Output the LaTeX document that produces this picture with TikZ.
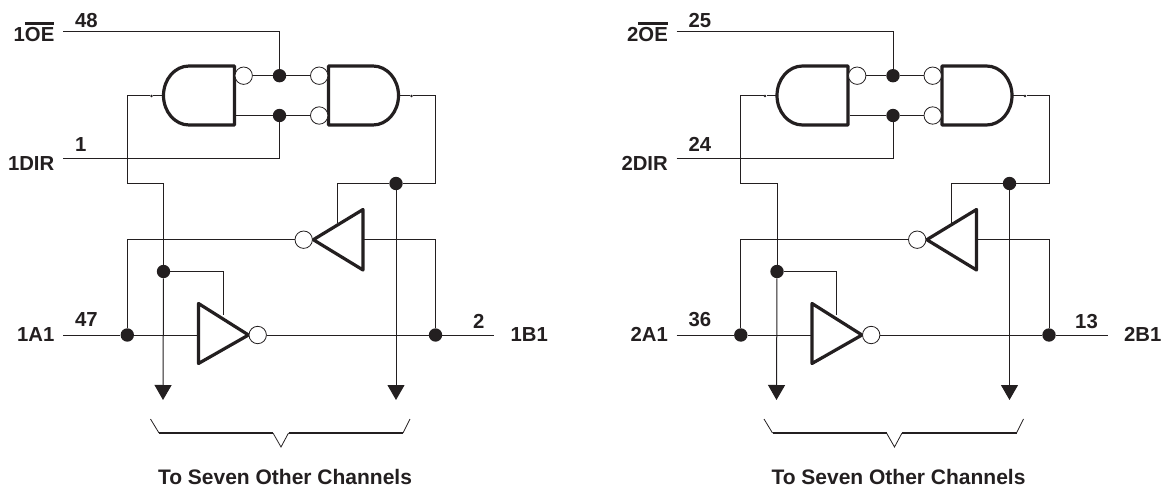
\documentclass[tikz,border=0pt]{standalone}
\usepackage{fontspec}
\setmainfont{Liberation Sans}
\usepackage{tikz}
\usetikzlibrary{arrows.meta}
\definecolor{ink}{HTML}{231F20}
\newcommand{\barred}[1]{\leavevmode\vbox{\hrule height 2.6pt \kern 3pt \hbox{#1}}}
\tikzset{
  wire/.style={draw=ink,line width=1pt},
  gate/.style={draw=ink,line width=3.2pt,line join=round,fill=white},
  junction/.style={circle,fill=ink,inner sep=0pt,minimum size=13.4pt},
  tick/.style={circle,fill=ink,inner sep=0pt,minimum size=2.6pt},
  bubble/.style={circle,draw=ink,line width=0.8pt,fill=white,inner sep=0pt,minimum size=17.4pt},
  pinlabel/.style={inner sep=0pt,text=ink,font=\fontsize{20.3}{22}\selectfont\bfseries},
  drop/.style={wire,-{Triangle[width=17pt,length=15pt,color=ink]}}
}
\begin{document}
\begin{tikzpicture}[x=1pt,y=-1pt]
\useasboundingbox (0,0) rectangle (1163,487);
%Zweimal derselbe Kanal, nur um 613.5 nach rechts
\foreach \ch/\off/\pOE/\pDIR/\pA/\pB in {1/0/48/1/47/2,2/613.5/25/24/36/13}{
\begin{scope}[xshift=\off pt]
%Gatter
  \draw[gate] (234.5,66) -- (189,66) arc[start angle=90,end angle=270,x radius=25.5pt,y radius=29.5pt] -- (234.5,125) -- cycle;
  \draw[gate] (328.5,66) -- (373,66) arc[start angle=90,end angle=-90,x radius=25.5pt,y radius=29.5pt] -- (328.5,125) -- cycle;
  \draw[gate] (363,209.5) -- (313.3,239.7) -- (363,270) -- cycle;
  \draw[gate] (198.5,303.5) -- (248.5,335) -- (198.5,363.5) -- cycle;
%Knoten
  \node[bubble] (bubOEa\ch) at (243.7,75.7) {};
  \node[bubble] (bubOEb\ch) at (319.2,75.7) {};
  \node[bubble] (bubDIRb\ch) at (319.2,115.5) {};
  \node[bubble] (bubBA\ch) at (303.7,239.7) {};
  \node[bubble] (bubAB\ch) at (257.7,335) {};
  \node[junction] (jOE\ch) at (279.5,75.7) {};
  \node[junction] (jDIR\ch) at (279.5,115.5) {};
  \node[junction] (jBus\ch) at (396,183.5) {};
  \node[junction] (jEn\ch) at (163.5,271.5) {};
  \node[junction] (jA\ch) at (127.3,335) {};
  \node[junction] (jB\ch) at (435.5,335) {};
  \node[tick] (tickA\ch) at (151.5,96) {};
  \node[tick] (tickB\ch) at (411.5,96) {};
  \coordinate (inOE\ch) at (63,32);
  \coordinate (inDIR\ch) at (63,158);
  \coordinate (inA\ch) at (63,335);
  \coordinate (outB\ch) at (494,335);
  \coordinate (gateAin\ch) at (163.5,96);
  \coordinate (gateAlow\ch) at (236,115.5);
  \coordinate (gateBout\ch) at (399,96);
  \coordinate (cornerA\ch) at (127.3,183.5);
  \coordinate (cornerB\ch) at (435.5,183.5);
  \coordinate (bufBin\ch) at (363,239.7);
  \coordinate (bufBen\ch) at (337.7,223);
  \coordinate (bufAin\ch) at (198.5,335);
  \coordinate (bufAen\ch) at (223,315);
  \coordinate (tipA\ch) at (163,400);
  \coordinate (tipB\ch) at (396,400);
%Leitungen
  \draw[wire] (inOE\ch) -| (jOE\ch);
  \draw[wire] (bubOEa\ch) -- (jOE\ch);
  \draw[wire] (jOE\ch) -- (bubOEb\ch);
  \draw[wire] (gateAlow\ch) -- (jDIR\ch);
  \draw[wire] (jDIR\ch) -- (bubDIRb\ch);
  \draw[wire] (inDIR\ch) -| (jDIR\ch);
  \draw[wire] (gateAin\ch) -- (tickA\ch) -| (cornerA\ch) -| (jEn\ch);
  \draw[wire] (gateBout\ch) -- (tickB\ch) -| (cornerB\ch) -- (jBus\ch);
  \draw[wire] (jBus\ch) -| (bufBen\ch);
  \draw[drop] (jBus\ch) -- (tipB\ch);
  \draw[drop] (jEn\ch) -- (tipA\ch);
  \draw[wire] (jEn\ch) -| (bufAen\ch);
  \draw[wire] (inA\ch) -- (jA\ch);
  \draw[wire] (jA\ch) -- (bufAin\ch);
  \draw[wire] (jA\ch) |- (bubBA\ch);
  \draw[wire] (bubAB\ch) -- (jB\ch);
  \draw[wire] (jB\ch) -- (outB\ch);
  \draw[wire] (bufBin\ch) -| (jB\ch);
%Klammer
  \draw[draw=ink,line width=0.8pt] (150.5,419) -- (159,433) (273,433) -- (281,447) -- (288.5,433) (403,433) -- (410,419);
  \draw[draw=ink,line width=1.6pt] (159,433) -- (273,433) (288.5,433) -- (403,433);
%Beschriftung
  \node[pinlabel,anchor=base east] (lblOE\ch) at (54.5,41.7) {\ch\barred{OE}};
  \node[pinlabel,anchor=base east] (lblDIR\ch) at (54.5,170) {\ch DIR};
  \node[pinlabel,anchor=base east] (lblA\ch) at (54.5,341.7) {\ch A1};
  \node[pinlabel,anchor=base west] (lblB\ch) at (510.5,341.7) {\ch B1};
  \node[pinlabel,anchor=base west] (pinOE\ch) at (75,27.3) {\pOE};
  \node[pinlabel,anchor=base west] (pinDIR\ch) at (75,151.6) {\pDIR};
  \node[pinlabel,anchor=base west] (pinA\ch) at (75,326.7) {\pA};
  \node[pinlabel,anchor=base east] (pinB\ch) at (484.5,328) {\pB};
  \node[pinlabel,anchor=base,font=\fontsize{21}{22}\selectfont\bfseries] (lblTo\ch) at (285,484) {To Seven Other Channels};
\end{scope}
}
\end{tikzpicture}
\end{document}
